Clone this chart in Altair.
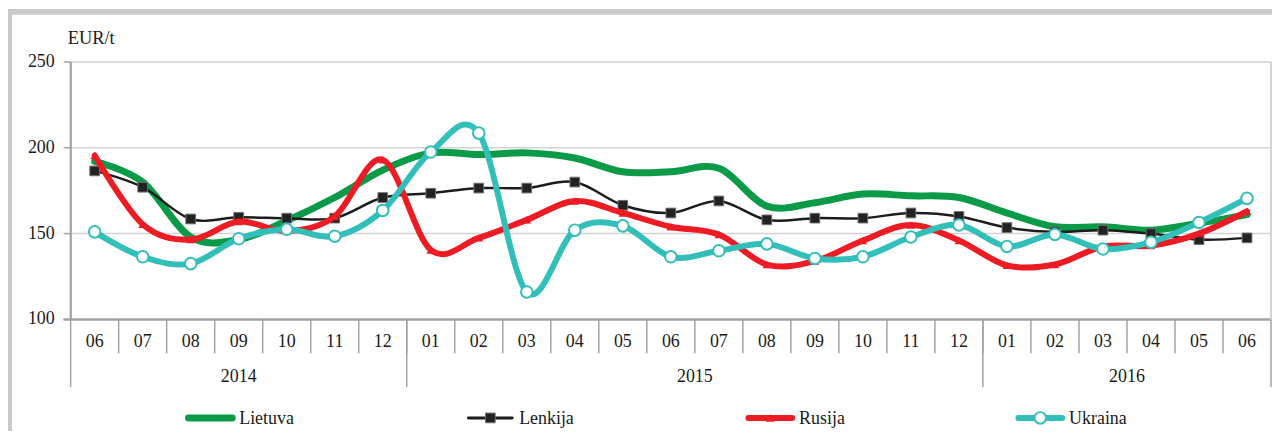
import altair as alt
import pandas as pd

# ---- data ----
years = ["2014"] * 7 + ["2015"] * 12 + ["2016"] * 6
months = ["06", "07", "08", "09", "10", "11", "12",
          "01", "02", "03", "04", "05", "06", "07", "08", "09", "10", "11", "12",
          "01", "02", "03", "04", "05", "06"]
series_names = ["Lietuva", "Lenkija", "Rusija", "Ukraina"]

lietuva = [192, 180, 148, 146.5, 157.5, 171, 187, 197, 196, 197, 194, 186, 186,
           188, 166, 168, 173, 172, 171, 162, 154, 154, 152, 156, 161]
lenkija = [186.5, 177, 158.5, 159.5, 159, 159, 171, 173.5, 176.5, 176.5, 180, 166.5, 162,
           169, 158, 159, 159, 162, 160, 153.5, 151, 152, 150, 146.5, 147.5]
rusija = [195.5, 155.5, 146.5, 157, 151.5, 160, 193, 140.5, 147.5, 158, 169, 162, 154,
          149.5, 132, 134, 146, 155, 146, 131.5, 132, 142.5, 143, 150, 163]
ukraina = [151, 136.5, 132.5, 147, 152.5, 148.5, 163.5, 197.5, 208.5, 116, 152, 154.5, 136.5,
           140, 144, 135.5, 136.5, 148, 155, 142.5, 149.5, 141, 145, 156.5, 170.5]

y_ticks = [100, 150, 200, 250]
unit_label = "EUR/t"

# ---- styling ----
FONT = "Liberation Serif"
GREEN = "#0b9a48"
BLACK = "#1c1c1c"
RED = "#ed1c24"
TEAL = "#33bfb9"
AXIS_GRAY = "#a3a3a3"
GRID_GRAY = "#d3d3d3"
FRAME_GRAY = "#c9c9c9"

W, H = 1207, 259
N = len(months)

idx = list(range(N))
values = {"Lietuva": lietuva, "Lenkija": lenkija, "Rusija": rusija, "Ukraina": ukraina}
rows = []
for s in series_names:
    for i, v in zip(idx, values[s]):
        rows.append({"idx": i, "series": s, "value": v})
df = pd.DataFrame(rows)

month_df = pd.DataFrame({"idx": idx, "month": months, "year": years})
year_df = month_df.groupby("year")["idx"].agg(["min", "max", "mean"]).reset_index()
bounds = sorted(set([m - 0.5 for m in year_df["min"]] + [year_df["max"].max() + 0.5]))
bounds_df = pd.DataFrame({"b": bounds})
year_lab_df = pd.DataFrame({"year": year_df["year"], "c": year_df["mean"]})
sep_df = pd.DataFrame({"s": [i - 0.5 for i in range(1, N)]})

xscale = alt.Scale(domain=[-0.5, N - 0.5], nice=False, zero=False)
yscale = alt.Scale(domain=[100, 250], nice=False, zero=False)

X = alt.X("idx:Q", scale=xscale, axis=None)
Y = alt.Y("value:Q", scale=yscale, axis=None)
base = alt.Chart(df)

marker_styles = {
    "Lenkija": dict(shape="square", filled=True, fill="#222222", stroke="#707070", strokeWidth=1, size=95),
    "Rusija": dict(shape="triangle-up", filled=True, fill=RED, strokeWidth=0, size=75),
    "Ukraina": dict(shape="circle", filled=True, fill="white", stroke=TEAL, strokeWidth=2, size=135),
}
line_styles = {"Lietuva": (GREEN, 7), "Lenkija": (BLACK, 2.5), "Rusija": (RED, 6), "Ukraina": (TEAL, 6)}

layers = []
tick_df = pd.DataFrame({"v": y_ticks, "lab": [str(v) for v in y_ticks]})
# horizontal gridlines
layers.append(alt.Chart(tick_df).mark_rule(color=GRID_GRAY, strokeWidth=1.5).encode(
    y=alt.Y("v:Q", scale=yscale, axis=None), x=alt.value(0), x2=alt.value(W)))
# y tick marks
layers.append(alt.Chart(tick_df).mark_rule(color=AXIS_GRAY, strokeWidth=1.5).encode(
    y=alt.Y("v:Q", scale=yscale, axis=None), x=alt.value(-7), x2=alt.value(0)))
# y tick labels
layers.append(alt.Chart(tick_df).mark_text(font=FONT, fontSize=18, color="#1a1a1a",
                                           align="right", baseline="middle").encode(
    y=alt.Y("v:Q", scale=yscale, axis=None), x=alt.value(-16), text="lab:N"))
# axis lines
layers.append(alt.Chart(tick_df).mark_rule(color=AXIS_GRAY, strokeWidth=1.5).encode(
    x=alt.value(0), y=alt.value(0), y2=alt.value(H)))
layers.append(alt.Chart(tick_df).mark_rule(color=AXIS_GRAY, strokeWidth=1.5).encode(
    x=alt.value(-7), x2=alt.value(W), y=alt.value(H)))
# month separators
layers.append(alt.Chart(sep_df).mark_rule(color=AXIS_GRAY, strokeWidth=1.5).encode(
    x=alt.X("s:Q", scale=xscale, axis=None), y=alt.value(H), y2=alt.value(H + 34)))

# frame decoration
layers.append(alt.Chart(tick_df).mark_rule(color=FRAME_GRAY, strokeWidth=5).encode(
    x=alt.value(-63), x2=alt.value(W + 1), y=alt.value(-50.5)))
layers.append(alt.Chart(tick_df).mark_rule(color=FRAME_GRAY, strokeWidth=4).encode(
    x=alt.value(-61), y=alt.value(-53), y2=alt.value(H + 112)))
# right plot border
layers.append(alt.Chart(tick_df).mark_rule(color=GRID_GRAY, strokeWidth=1.5).encode(
    x=alt.value(W), y=alt.value(0), y2=alt.value(H)))

for s in series_names:
    c, w = line_styles[s]
    layers.append(base.transform_filter(alt.datum.series == s).mark_line(
        interpolate="cardinal", color=c, strokeWidth=w, strokeJoin="round", strokeCap="round"
    ).encode(x=X, y=Y))
    if s in marker_styles:
        layers.append(base.transform_filter(alt.datum.series == s).mark_point(
            opacity=1, **marker_styles[s]).encode(x=X, y=Y))

# month labels
layers.append(alt.Chart(month_df).mark_text(font=FONT, fontSize=18, color="#1a1a1a",
                                            baseline="alphabetic", align="center").encode(
    x=X, y=alt.value(287), text="month:N"))
# year separators
layers.append(alt.Chart(bounds_df).mark_rule(color=AXIS_GRAY, strokeWidth=1.5).encode(
    x=alt.X("b:Q", scale=xscale, axis=None), y=alt.value(H), y2=alt.value(H + 68)))
# year labels
layers.append(alt.Chart(year_lab_df).mark_text(font=FONT, fontSize=18, color="#1a1a1a",
                                               baseline="alphabetic", align="center").encode(
    x=alt.X("c:Q", scale=xscale, axis=None), y=alt.value(322), text="year:N"))
# unit label
layers.append(alt.Chart(pd.DataFrame({"t": [unit_label]})).mark_text(
    font=FONT, fontSize=18.5, color="#1a1a1a", align="left", baseline="alphabetic").encode(
    x=alt.value(-3), y=alt.value(-18), text="t:N"))

# ---- legend (slot centres expressed on the month axis) ----
leg_px = [140.5, 422, 703.5, 975]
leg_df = pd.DataFrame({"series": series_names,
                       "lx": [p / W * N - 0.5 for p in leg_px]})
LX = alt.X("lx:Q", scale=xscale, axis=None)
for s in series_names:
    c, w = line_styles[s]
    sub = alt.Chart(leg_df).transform_filter(alt.datum.series == s)
    layers.append(sub.mark_point(shape="M-1,0L1,0", size=1936, filled=False, color=c,
                                 strokeWidth=max(w, 3), strokeCap="round", opacity=1).encode(
        x=LX, y=alt.value(358)))
    if s in marker_styles:
        layers.append(sub.mark_point(opacity=1, **marker_styles[s]).encode(x=LX, y=alt.value(358)))
layers.append(alt.Chart(leg_df).mark_text(font=FONT, fontSize=18, color="#1a1a1a",
                                          align="left", baseline="alphabetic", dx=29).encode(
    x=LX, y=alt.value(364), text="series:N"))

chart = alt.layer(*layers).properties(
    width=W, height=H,
    autosize=alt.AutoSizeParams(type="none"),
    padding={"left": 63, "top": 53, "right": 1, "bottom": 112},
    background="white",
).configure_view(stroke=None).configure(font=FONT)

chart.save("out.html", embed_options={"renderer": "svg", "actions": False})
